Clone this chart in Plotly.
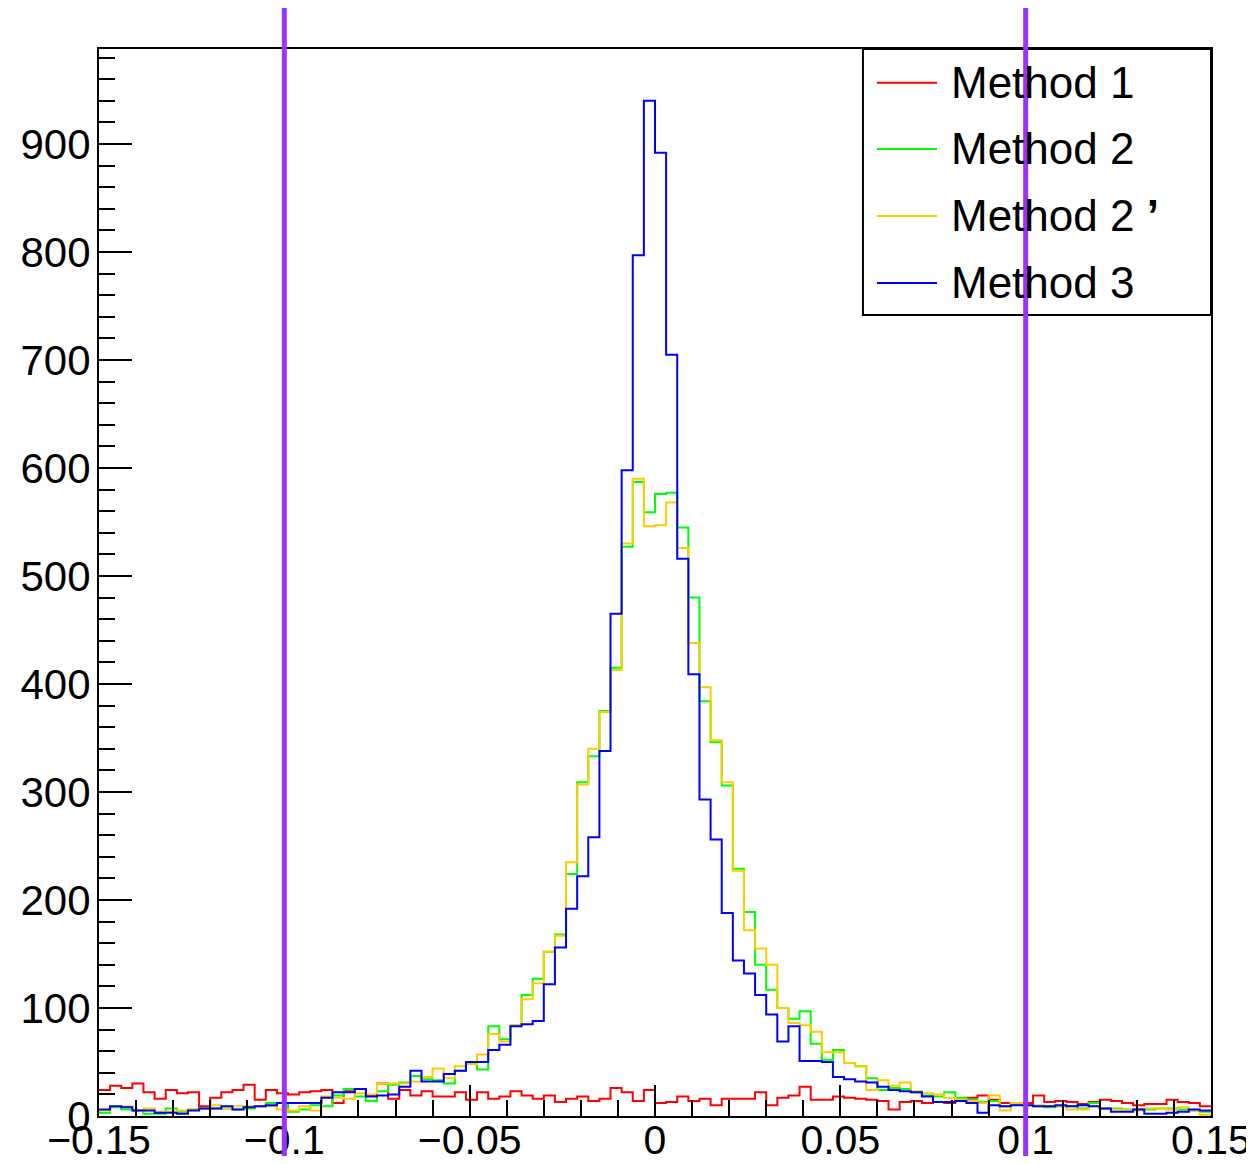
import numpy as np
import plotly.graph_objects as go

# histogram binning
x_min, x_max, n_bins = -0.15, 0.15, 100

# bin contents
method1 = [24, 28, 26, 30, 22, 16, 24, 21, 22, 9,
           17, 22, 24, 29, 15, 24, 21, 20, 22, 23,
           24, 12, 23, 25, 19, 30, 16, 24, 19, 23,
           18, 18, 22, 15, 22, 16, 18, 23, 19, 16,
           19, 13, 16, 18, 14, 16, 26, 22, 14, 24,
           12, 13, 18, 14, 16, 10, 16, 16, 16, 22,
           10, 17, 19, 27, 15, 15, 18, 17, 16, 15,
           14, 6, 13, 14, 12, 13, 12, 15, 17, 19,
           15, 12, 12, 12, 19, 13, 14, 13, 11, 13,
           15, 14, 12, 10, 11, 11, 15, 13, 12, 9]
method2 = [3, 8, 6, 5, 2, 2, 7, 4, 6, 7,
           7, 7, 6, 7, 9, 12, 12, 4, 6, 10,
           9, 19, 25, 18, 14, 23, 29, 31, 37, 34,
           33, 30, 42, 49, 43, 83, 71, 84, 112, 127,
           152, 168, 224, 309, 333, 375, 415, 527, 587, 559,
           576, 577, 545, 480, 384, 346, 306, 229, 189, 140,
           117, 100, 90, 97, 67, 52, 61, 49, 46, 35,
           24, 26, 25, 22, 19, 18, 22, 17, 15, 13,
           14, 9, 11, 10, 9, 8, 9, 9, 7, 12,
           7, 7, 6, 6, 6, 7, 7, 6, 5, 4]
method2p = [5, 9, 9, 5, 7, 4, 4, 5, 6, 7,
            10, 7, 9, 9, 9, 9, 6, 5, 9, 5,
            18, 17, 16, 21, 20, 30, 30, 30, 32, 36,
            44, 35, 46, 48, 57, 76, 69, 84, 108, 123,
            152, 167, 235, 307, 340, 374, 413, 530, 590, 546,
            547, 568, 526, 438, 397, 348, 309, 227, 172, 155,
            140, 100, 86, 84, 78, 59, 59, 49, 46, 24,
            33, 28, 31, 23, 21, 20, 17, 15, 14, 12,
            19, 5, 12, 10, 10, 9, 9, 6, 6, 9,
            7, 6, 6, 5, 7, 7, 6, 8, 5, 1]
method3 = [6, 9, 8, 5, 5, 3, 3, 2, 5, 7,
           7, 9, 6, 8, 9, 10, 12, 12, 12, 12,
           17, 22, 22, 25, 18, 19, 20, 27, 42, 32,
           32, 39, 42, 50, 50, 61, 66, 83, 85, 88,
           122, 156, 192, 222, 258, 338, 465, 598, 797, 940,
           892, 705, 516, 409, 293, 256, 188, 144, 132, 112,
           94, 69, 83, 51, 51, 50, 36, 34, 32, 31,
           27, 24, 23, 22, 18, 13, 13, 14, 12, 3,
           10, 9, 10, 10, 9, 9, 10, 9, 10, 9,
           7, 4, 4, 6, 2, 2, 3, 4, 6, 5]

series_names = ['Method 1', 'Method 2', 'Method 2 <b>’</b>', 'Method 3']
series_colors = ['#FF0000', '#00FF00', '#FFCC00', '#0000FF']

cut_values = [-0.1, 0.1]

x_tickvals = [-0.15, -0.1, -0.05, 0, 0.05, 0.1, 0.15]
x_ticktext = ['−0.15', '−0.1', '−0.05', '0', '0.05', '0.1', '0.15']

edges = np.linspace(x_min, x_max, n_bins + 1)

fig = go.Figure()
for counts, color in zip([method1, method2, method2p, method3], series_colors):
    fig.add_trace(go.Scatter(
        x=edges, y=list(counts) + [counts[-1]],
        mode='lines', line=dict(color=color, width=2, shape='hv'),
        showlegend=False, hoverinfo='skip',
    ))

font = 'Liberation Sans, Arial, Helvetica, sans-serif'

# page body keeps its 8px margin, so the figure is 16px smaller than the window
fig.update_layout(
    width=1238, height=1148,
    margin=dict(l=91, r=35, t=41, b=40),
    plot_bgcolor='#FFFFFF',
    paper_bgcolor='#FFFFFF',
    font=dict(family=font, size=42, color='#000000'),
    showlegend=False,
)
fig.update_xaxes(
    range=[x_min, x_max], showgrid=False, zeroline=False, automargin=False,
    showline=True, linecolor='#000000', linewidth=2, mirror=True,
    ticks='inside', ticklen=31, tickwidth=2, tickcolor='#000000',
    tickvals=x_tickvals, ticktext=x_ticktext,
    minor=dict(ticks='inside', ticklen=16, tickwidth=2, tickcolor='#000000', dtick=0.01, tick0=x_min),
    tickfont=dict(size=41), ticklabeloverflow='allow', ticklabelstandoff=-13,
)
fig.update_yaxes(
    range=[0, 988], showgrid=False, zeroline=False, automargin=False,
    showline=True, linecolor='#000000', linewidth=2, mirror=True,
    ticks='inside', ticklen=33, tickwidth=2, tickcolor='#000000',
    dtick=100, tick0=0,
    minor=dict(ticks='inside', ticklen=16, tickwidth=2, tickcolor='#000000', dtick=20),
    tickfont=dict(size=42), ticklabeloverflow='allow', ticklabelstandoff=-2,
)

# legend box drawn by hand so the cut lines can run through it
fig.add_shape(type='rect', xref='paper', yref='paper', x0=0.687, x1=1.0, y0=0.7507, y1=1.0,
              line=dict(color='#000000', width=2), fillcolor='rgba(0,0,0,0)')
row_y = [0.9684, 0.9063, 0.8435, 0.7807]
for name, color, yy in zip(series_names, series_colors, row_y):
    fig.add_shape(type='line', xref='paper', yref='paper', x0=0.6996, x1=0.7536, y0=yy, y1=yy,
                  line=dict(color=color, width=2))
    fig.add_annotation(xref='paper', yref='paper', x=0.7645, y=yy, text=name, showarrow=False,
                       xanchor='left', yanchor='middle', font=dict(size=44, color='#000000'))

# cut lines
for xc in cut_values:
    fig.add_shape(type='line', xref='x', yref='paper', x0=xc, x1=xc, y0=-0.045, y1=1.0384,
                  line=dict(color='#9933FF', width=5))

fig.write_html("out.html")
